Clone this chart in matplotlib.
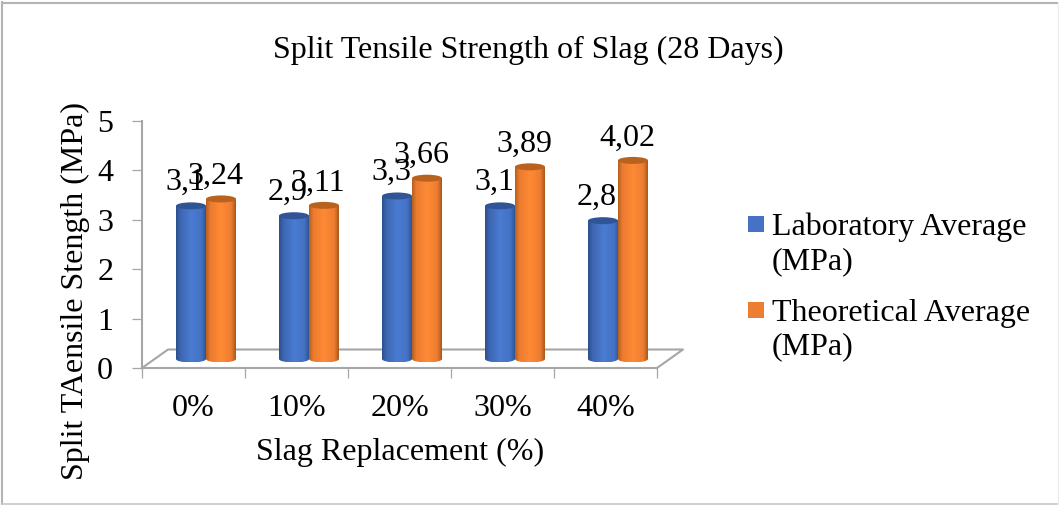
import numpy as np
import matplotlib
matplotlib.use('Agg')
import matplotlib.pyplot as plt
from matplotlib.colors import LinearSegmentedColormap
from matplotlib.lines import Line2D
from matplotlib.patches import Ellipse, Polygon, Rectangle

categorias = ['0%', '10%', '20%', '30%', '40%']
lab = [3.1, 2.9, 3.3, 3.1, 2.8]
teo = [3.24, 3.11, 3.66, 3.89, 4.02]
lab_txt = ['3,1', '2,9', '3,3', '3,1', '2,8']
teo_txt = ['3,24', '3,11', '3,66', '3,89', '4,02']
nome_lab = 'Laboratory Average\n(MPa)'
nome_teo = 'Theoretical Average\n(MPa)'

W, H = 1059, 505
plt.rcParams['font.family'] = ['Liberation Serif']

fig = plt.figure(figsize=(W / 100, H / 100), dpi=100)


def fx(x):
    return x / W


def fy(y):
    return 1 - y / H


# moldura
fig.add_artist(Line2D([fx(2), fx(2)], [fy(2), fy(503.5)], color='#b4b4b4', lw=1.5))
fig.add_artist(Line2D([fx(2), fx(1058)], [fy(2.5), fy(2.5)], color='#b4b4b4', lw=1.5))
fig.add_artist(Line2D([fx(2), fx(1058)], [fy(503.5), fy(503.5)], color='#c8c8c8', lw=1.2))
fig.add_artist(Line2D([fx(1058), fx(1058)], [fy(2), fy(503.5)], color='#ececec', lw=1))

ax = fig.add_axes([fx(142), fy(368), 515 / W, 247 / H])
ax.patch.set_visible(False)

cinza = '#a6a6a6'
for s in ['top', 'right']:
    ax.spines[s].set_visible(False)
for s in ['left', 'bottom']:
    ax.spines[s].set_color(cinza)
    ax.spines[s].set_linewidth(1.5)

# piso em perspectiva
dx, dy = 26 / 103, 18.5 / 49.4
ax.plot([0, dx, 5 + dx, 5], [0, dy, dy, 0], color=cinza, lw=1.5, clip_on=False, zorder=1)

ax.set_xticks(np.arange(6))
ax.set_xticklabels([])
ax.set_yticks(np.arange(6))
ax.tick_params(axis='y', length=7.2, width=0.9, color=cinza, labelsize=23, pad=13.5)
ax.tick_params(axis='x', length=7, width=0.9, color=cinza)
for i, c in enumerate(categorias):
    ax.annotate(c, (i + 0.5, 0), xytext=(0, -26), textcoords='offset pixels', ha='center', va='top',
                fontsize=23, annotation_clip=False)

fig.text(fx(528), fy(50), 'Split Tensile Strength of Slag (28 Days)', ha='center', va='center', fontsize=23)
fig.text(fx(400), fy(452), 'Slag Replacement (%)', ha='center', va='center', fontsize=23)
fig.text(fx(75), fy(291), 'Split TAensile Stength (MPa)', ha='center', va='center', rotation=90, fontsize=23)

cmap_azul = LinearSegmentedColormap.from_list('a', [(0, '#2c4f8c'), (0.14, '#3d66b0'), (0.5, '#4a7cd2'),
                                                    (0.85, '#4472c4'), (1, '#2f5597')])
cmap_lar = LinearSegmentedColormap.from_list('l', [(0, '#b5601f'), (0.14, '#ea7b2f'), (0.5, '#ff8a35'),
                                                   (0.85, '#ed7d31'), (1, '#a9591c')])
grad = np.linspace(0, 1, 64).reshape(1, -1)

larg = 30 / 103
base = 9 / 49.4
ry = 3.5 / 49.4


def cilindro(xc, v, cmap, cor_topo, z):
    topo = v + base
    t = np.linspace(np.pi, 2 * np.pi, 40)
    xs = xc + larg / 2 * np.cos(t)
    ys = base + ry * np.sin(t)
    pts = np.column_stack([np.r_[xs, xc + larg / 2, xc - larg / 2], np.r_[ys, topo, topo]])
    im = ax.imshow(grad, extent=[xc - larg / 2, xc + larg / 2, base - ry, topo], cmap=cmap, aspect='auto', zorder=z)
    clip = Polygon(pts, transform=ax.transData, fc='none', ec='none')
    ax.add_patch(clip)
    im.set_clip_path(clip)
    ax.add_patch(Ellipse((xc, topo), larg, 2 * ry, fc=cor_topo, ec='none', zorder=z + 0.1))


for i in range(5):
    xa = i + 0.5 + 12.5 / 103 - larg / 2
    xl = i + 0.5 + 12.5 / 103 + larg / 2
    cilindro(xa, lab[i], cmap_azul, '#2f5597', 3)
    cilindro(xl, teo[i], cmap_lar, '#b9611f', 4)
    ax.annotate(lab_txt[i], (xa, lab[i] + base), xytext=(-6, 16), textcoords='offset pixels',
                ha='center', va='baseline', fontsize=23, zorder=6)
    ax.annotate(teo_txt[i], (xl, teo[i] + base), xytext=(-6, 15), textcoords='offset pixels',
                ha='center', va='baseline', fontsize=23, zorder=6)
ax.set_xlim(0, 5)
ax.set_ylim(0, 5)

# legenda
for yk, cor, nome in [(216, '#4472c4', nome_lab), (302, '#ed7d31', nome_teo)]:
    fig.add_artist(Rectangle((fx(748), fy(yk + 16)), 16 / W, 16 / H, transform=fig.transFigure, fc=cor, ec='none'))
    fig.text(fx(772), fy(yk - 3), nome, ha='left', va='top', fontsize=23, linespacing=1.2)

fig.savefig('out.png', dpi=100)
